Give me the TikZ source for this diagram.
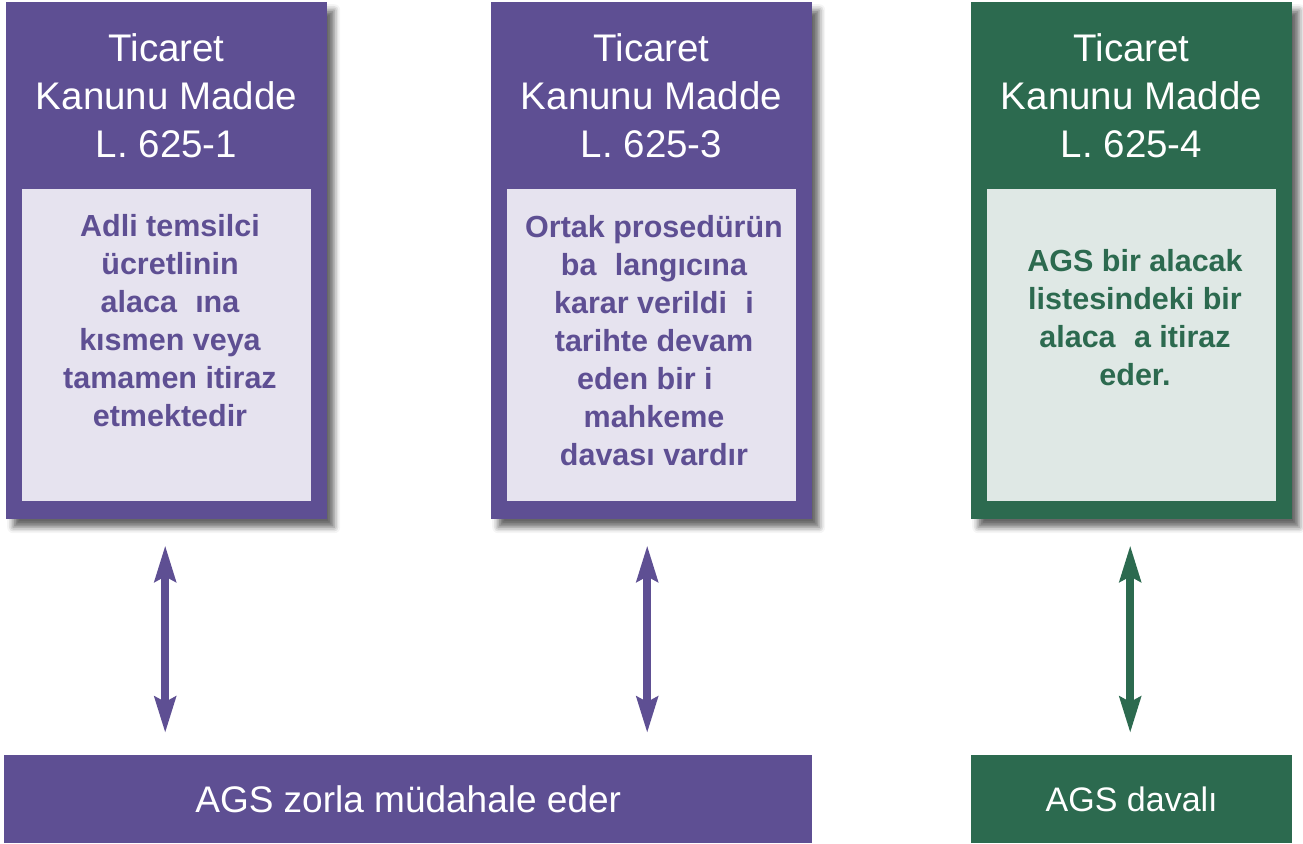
\documentclass[tikz,border=0pt]{standalone}
\usepackage{fontspec}
\setmainfont{Liberation Sans}
\usetikzlibrary{shadows.blur,arrows.meta}
\definecolor{pur}{RGB}{94,79,147}
\definecolor{purl}{RGB}{230,227,239}
\definecolor{grn}{RGB}{44,106,79}
\definecolor{grnl}{RGB}{223,232,229}
\newcommand{\gp}{\hbox to .6em{}}
\begin{document}
\begin{tikzpicture}[x=1pt,y=-1pt,
  outerbox/.style={draw=none, fill=#1, minimum width=321pt, minimum height=517pt, anchor=north west, inner sep=0pt,
    blur shadow={shadow xshift=7pt, shadow yshift=-8pt, shadow blur radius=6pt, shadow opacity=60}},
  innerbox/.style={fill=#1, minimum width=289pt, minimum height=312pt, anchor=north west, inner sep=0pt},
  mytitle/.style={text=white, font=\fontsize{38.5}{48}\selectfont, align=center, inner sep=0pt},
  bodytext/.style={text=#1, font=\bfseries\fontsize{30.5}{38}\selectfont, align=center, inner sep=0pt},
  barbox/.style={fill=#1, anchor=north west, minimum height=88pt, inner sep=0pt, text=white},
  arr/.style={draw=#1, line width=7.5pt, {Stealth[width=21pt, length=36pt, inset=5pt]}-{Stealth[width=21pt, length=36pt, inset=5pt]}}
]
\useasboundingbox (0,0) rectangle (1303,843);

% outer boxes
\node[outerbox=pur] (o1) at (6,2) {};
\node[outerbox=pur] (o2) at (491,2) {};
\node[outerbox=grn] (o3) at (971,2) {};

% inner boxes
\node[innerbox=purl] (i1) at (22,189) {};
\node[innerbox=purl] (i2) at (507,189) {};
\node[innerbox=grnl] (i3) at (987,189) {};

% titles
\node[mytitle] (h1) at (166.5,96) {Ticaret\\Kanunu Madde\\L. 625-1};
\node[mytitle] (h2) at (651.5,96) {Ticaret\\Kanunu Madde\\L. 625-3};
\node[mytitle] (h3) at (1131.5,96) {Ticaret\\Kanunu Madde\\L. 625-4};

% body texts
\node[bodytext=pur] (t1) at (170,320.5) {Adli temsilci\\ücretlinin\\alaca\gp ına\\kısmen veya\\tamamen itiraz\\etmektedir};
\node[bodytext=pur] (t2) at (654,341) {Ortak prosedürün\\ba\gp langıcına\\karar verildi\gp i\\tarihte devam\\eden bir i\gp\\mahkeme\\davası vardır};
\node[bodytext=grn] (t3) at (1135,317.5) {AGS bir alacak\\listesindeki bir\\alaca\gp a itiraz\\eder.};

% bottom bars
\node[barbox=pur, minimum width=808pt, font=\fontsize{37}{40}\selectfont] (b1) at (4,755) {AGS zorla müdahale eder};
\node[barbox=grn, minimum width=321pt, font=\fontsize{34}{40}\selectfont] (b2) at (971,755) {AGS davalı};

% arrows
\draw[arr=pur] ([xshift=-1.5pt,yshift=-26pt]o1.south) -- ([xshift=-1.5pt,yshift=22pt]o1.south |- b1.north);
\draw[arr=pur] ([xshift=-4.5pt,yshift=-26pt]o2.south) -- ([xshift=-4.5pt,yshift=22pt]o2.south |- b1.north);
\draw[arr=grn] ([xshift=-1.5pt,yshift=-26pt]o3.south) -- ([xshift=-1.5pt,yshift=22pt]b2.north);
\end{tikzpicture}
\end{document}
